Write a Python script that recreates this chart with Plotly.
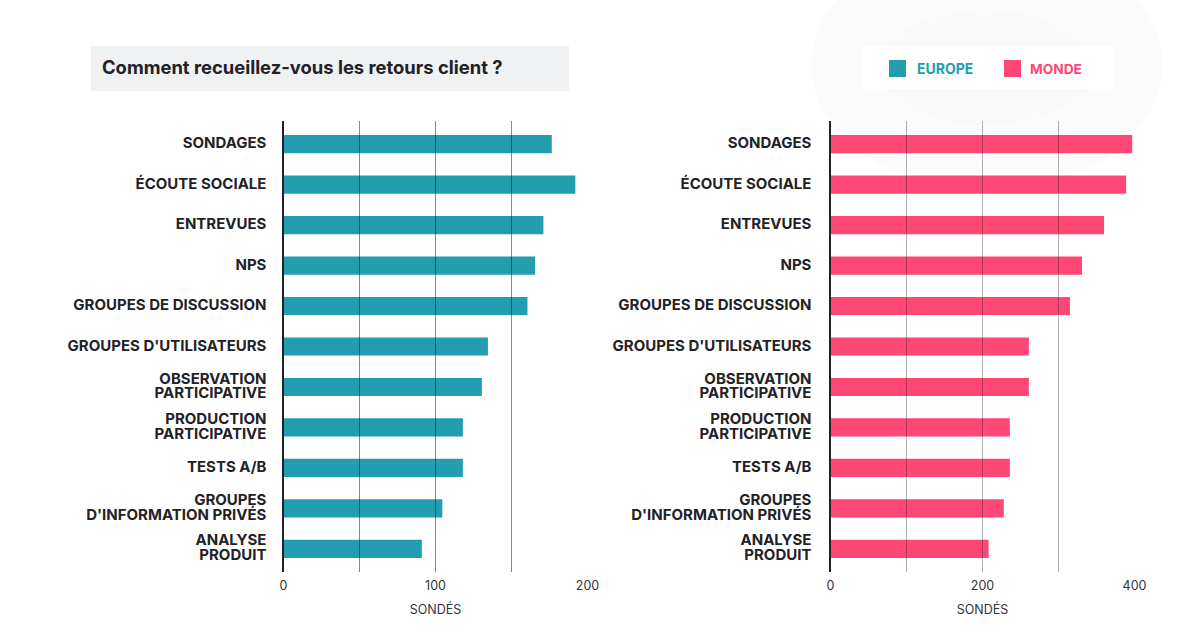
import plotly.graph_objects as go

title = "Comment recueillez-vous les retours client ?"
categories = ["SONDAGES", "ÉCOUTE SOCIALE", "ENTREVUES", "NPS", "GROUPES DE DISCUSSION",
              "GROUPES D'UTILISATEURS", "OBSERVATION<br>PARTICIPATIVE", "PRODUCTION<br>PARTICIPATIVE",
              "TESTS A/B", "GROUPES<br>D'INFORMATION PRIVÉS", "ANALYSE<br>PRODUIT"]
europe = [176.5, 192, 171, 165.5, 160.5, 134.5, 130.5, 118, 118, 104.5, 91]
monde = [397, 389, 360, 331, 315, 261, 261, 236, 236, 228, 208]
europe_ticks = [0, 50, 100, 150, 200]
europe_ticktext = ["0", "", "100", "", "200"]
monde_ticks = [0, 100, 200, 300, 400]
monde_ticktext = ["0", "", "200", "", "400"]
axis_title = "SONDÉS"
legend_names = ["EUROPE", "MONDE"]

TEAL = "#229EAE"
PINK = "#FF4775"
INK = "#222226"
FONT = "Inter"
W, H = 1200, 640
px = lambda v: v / W
py = lambda v: 1 - v / H

fig = go.Figure()
fig.add_bar(y=categories, x=europe, orientation="h", marker=dict(color=TEAL, line_width=0),
            width=0.45, xaxis="x", yaxis="y", name=legend_names[0])
fig.add_bar(y=categories, x=monde, orientation="h", marker=dict(color=PINK, line_width=0),
            width=0.45, xaxis="x2", yaxis="y2", name=legend_names[1])


def xaxis(domain, rng, ticks, text, anchor, color):
    return dict(domain=domain, range=rng, anchor=anchor, tickmode="array", tickvals=ticks, ticktext=text,
                showgrid=False, zeroline=False, showline=False, ticks="inside", ticklen=451, tickwidth=1.2,
                tickcolor=color, layer="above traces", ticklabelstandoff=4,
                tickfont=dict(family=FONT, size=12.5, color="#333338"),
                title=dict(text=axis_title, font=dict(family=FONT, size=12.5, color="#333338"), standoff=13))


def label(cat):
    # the base font size sets the 15px line spacing, the span sets the glyph size
    return "<br>".join(f"<span style='font-size:15px'><b>{line}</b></span>" for line in cat.split("<br>"))


def yaxis(anchor, standoff):
    return dict(domain=[py(572), py(121)], type="category", categoryorder="array", categoryarray=categories,
                range=[10.57, -0.57], anchor=anchor, tickmode="array", tickvals=categories,
                ticktext=[label(c) for c in categories], ticklabelstandoff=standoff,
                tickfont=dict(family=FONT, size=11.5, color=INK), ticks="", showgrid=False,
                zeroline=False, showline=True, linecolor="#222226", linewidth=1.5, layer="above traces")


annotations = [
    dict(text=f"<b>{title}</b>", xref="paper", yref="paper", x=px(100), y=py(67), xanchor="left", yanchor="middle",
         showarrow=False, font=dict(family=FONT, size=18.4, color=INK)),
    dict(text=f"<b>{legend_names[0]}</b>", xref="paper", yref="paper", x=px(915), y=py(69), xanchor="left",
         yanchor="middle", showarrow=False, font=dict(family=FONT, size=14, color=TEAL)),
    dict(text=f"<b>{legend_names[1]}</b>", xref="paper", yref="paper", x=px(1028), y=py(69), xanchor="left",
         yanchor="middle", showarrow=False, font=dict(family=FONT, size=13.7, color=PINK)),
]

rect = lambda x0, y0, x1, y1, color, kind="rect": dict(
    type=kind, xref="paper", yref="paper", x0=px(x0), x1=px(x1), y0=py(y0), y1=py(y1),
    fillcolor=color, line_width=0, layer="below")

shapes = [
    rect(811, -60, 1163, 190, "#FBFBFB", "circle"),
    rect(880, 10, 1092, 125, "#F9F9F9", "circle"),
    rect(862, 46, 1114, 89, "#FFFFFF"),
    rect(91, 46, 569, 91, "#F0F1F3"),
    rect(889, 60, 906, 77, TEAL),
    rect(1004, 60, 1021, 77, PINK),
]

fig.update_layout(
    width=W, height=H, autosize=False, margin=dict(l=0, r=0, t=0, b=0, autoexpand=False),
    paper_bgcolor="white", plot_bgcolor="rgba(0,0,0,0)", showlegend=False, barmode="overlay",
    xaxis=xaxis([px(283.5), px(587.5)], [0, 200], europe_ticks, europe_ticktext, "y", "rgba(20,20,20,0.5)"),
    yaxis=yaxis("x", 13),
    xaxis2=xaxis([px(830.5), px(1134.5)], [0, 400], monde_ticks, monde_ticktext, "y2", "rgba(20,20,20,0.33)"),
    yaxis2=yaxis("x2", 15),
    annotations=annotations, shapes=shapes,
)
fig.write_html("out.html", config=dict(displayModeBar=False),
               post_script="document.body.style.margin='0';document.body.style.overflow='hidden';")
